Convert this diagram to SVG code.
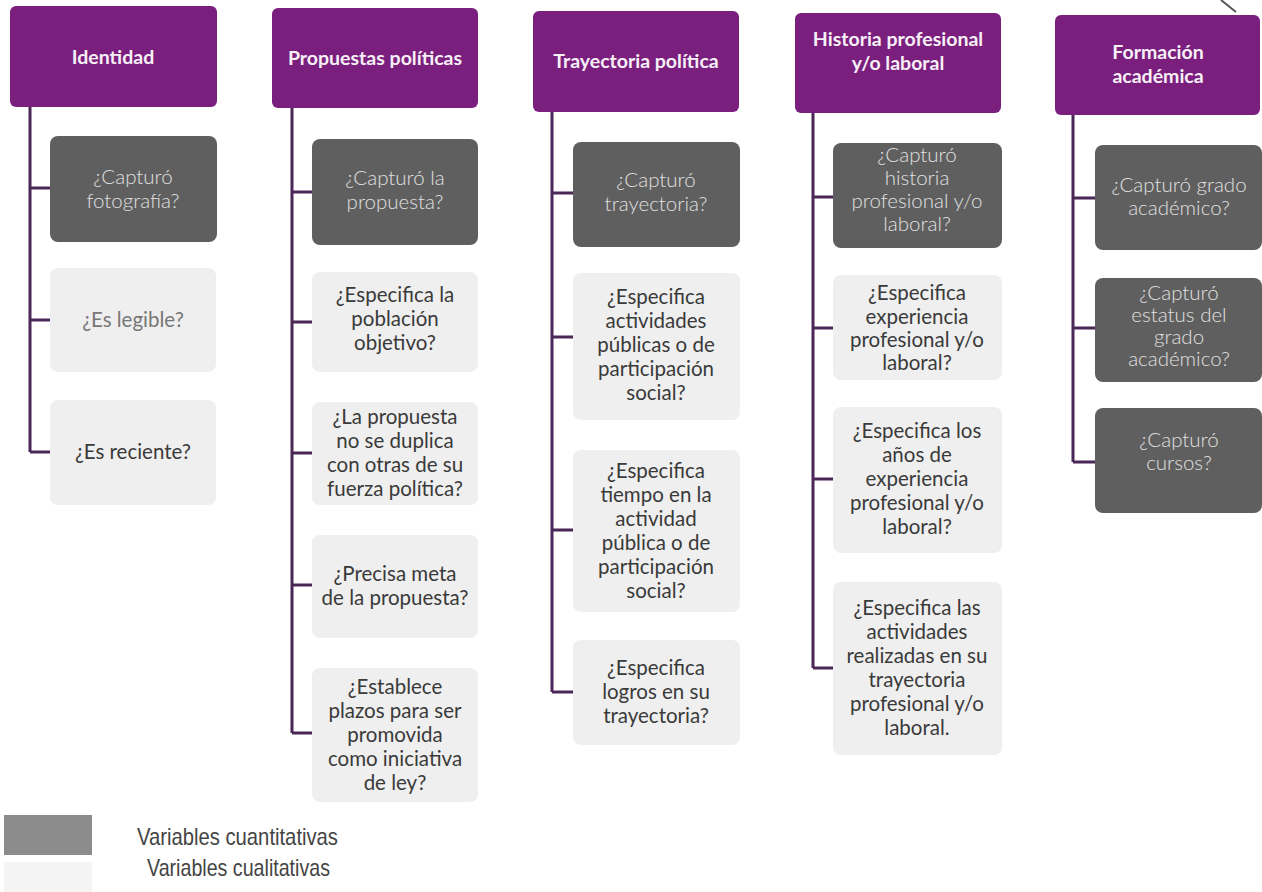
<svg xmlns="http://www.w3.org/2000/svg" width="1262" height="892" viewBox="0 0 1262 892">
<style>
.hdr{fill:#7b1f7e}
.ht{fill:#f6f0f6;font-family:Lato,"Open Sans",sans-serif;font-weight:bold;font-size:19.5px;text-anchor:middle}
.dk{fill:#5f5f5f}
.lt{fill:#efefef}
.dt{fill:#e0e0e0;font-family:Lato,"Open Sans",sans-serif;font-weight:300;font-size:20.5px;text-anchor:middle}
.tt{fill:#3a3a3a;font-family:Lato,"Open Sans",sans-serif;font-size:20.5px;text-anchor:middle}
.con{fill:none;stroke:#4b2757;stroke-width:3}
.lg{fill:#444;font-family:"Liberation Sans",Arial,sans-serif;font-size:24px}
</style>
<rect width="1262" height="892" fill="#ffffff"/>
<line x1="1221" y1="0" x2="1236" y2="12" stroke="#555" stroke-width="2"/>
<g id="connectors">
<path class="con" d="M30 107V452M30 188H50M30 320H50M30 452H50"/>
<path class="con" d="M292 108V733M292 192H312M292 322H312M292 453H312M292 585H312M292 733H312"/>
<path class="con" d="M552 112V692M552 193H573M552 337H573M552 530H573M552 692H573"/>
<path class="con" d="M813 113V668M813 197H833M813 328H833M813 479H833M813 668H833"/>
<path class="con" d="M1073 115V462M1073 198H1095M1073 328H1095M1073 462H1095"/>
</g>
<g id="h1"><rect class="hdr" x="10" y="6" width="207" height="101" rx="6"/><text class="ht" x="113" y="64">Identidad</text></g>
<g id="h2"><rect class="hdr" x="272" y="8" width="206" height="100" rx="6"/><text class="ht" x="375" y="65">Propuestas políticas</text></g>
<g id="h3"><rect class="hdr" x="533" y="11" width="206" height="101" rx="6"/><text class="ht" x="636" y="68">Trayectoria política</text></g>
<g id="h4"><rect class="hdr" x="795" y="13" width="206" height="100" rx="6"/><text class="ht" x="898" y="46">Historia profesional</text><text class="ht" x="898" y="70">y/o laboral</text></g>
<g id="h5"><rect class="hdr" x="1055" y="15" width="205" height="100" rx="6"/><text class="ht" x="1158" y="59">Formación</text><text class="ht" x="1158" y="83">académica</text></g>

<g id="c1b1"><rect class="dk" x="50" y="136" width="167" height="106" rx="8"/><text class="dt" x="133" y="184">¿Capturó</text><text class="dt" x="133" y="208">fotografía?</text></g>
<g id="c1b2"><rect class="lt" x="50" y="268" width="166" height="104" rx="8"/><text class="tt" x="133" y="327" style="fill:#777">¿Es legible?</text></g>
<g id="c1b3"><rect class="lt" x="50" y="400" width="166" height="105" rx="8"/><text class="tt" x="133" y="459">¿Es reciente?</text></g>

<g id="c2b1"><rect class="dk" x="312" y="139" width="166" height="106" rx="8"/><text class="dt" x="395" y="185">¿Capturó la</text><text class="dt" x="395" y="209">propuesta?</text></g>
<g id="c2b2"><rect class="lt" x="312" y="272" width="166" height="100" rx="8"/><text class="tt" x="395" y="302">¿Especifica la</text><text class="tt" x="395" y="326">población</text><text class="tt" x="395" y="350">objetivo?</text></g>
<g id="c2b3"><rect class="lt" x="312" y="402" width="166" height="103" rx="8"/><text class="tt" x="395" y="424">¿La propuesta</text><text class="tt" x="395" y="448">no se duplica</text><text class="tt" x="395" y="472">con otras de su</text><text class="tt" x="395" y="496">fuerza política?</text></g>
<g id="c2b4"><rect class="lt" x="312" y="535" width="166" height="103" rx="8"/><text class="tt" x="395" y="581">¿Precisa meta</text><text class="tt" x="395" y="605">de la propuesta?</text></g>
<g id="c2b5"><rect class="lt" x="312" y="668" width="166" height="134" rx="8"/><text class="tt" x="395" y="694">¿Establece</text><text class="tt" x="395" y="718">plazos para ser</text><text class="tt" x="395" y="742">promovida</text><text class="tt" x="395" y="766">como iniciativa</text><text class="tt" x="395" y="790">de ley?</text></g>

<g id="c3b1"><rect class="dk" x="573" y="142" width="167" height="105" rx="8"/><text class="dt" x="656" y="187">¿Capturó</text><text class="dt" x="656" y="211">trayectoria?</text></g>
<g id="c3b2"><rect class="lt" x="573" y="273" width="167" height="147" rx="8"/><text class="tt" x="656" y="304">¿Especifica</text><text class="tt" x="656" y="328">actividades</text><text class="tt" x="656" y="352">públicas o de</text><text class="tt" x="656" y="376">participación</text><text class="tt" x="656" y="400">social?</text></g>
<g id="c3b3"><rect class="lt" x="573" y="450" width="167" height="162" rx="8"/><text class="tt" x="656" y="478">¿Especifica</text><text class="tt" x="656" y="502">tiempo en la</text><text class="tt" x="656" y="526">actividad</text><text class="tt" x="656" y="550">pública o de</text><text class="tt" x="656" y="574">participación</text><text class="tt" x="656" y="598">social?</text></g>
<g id="c3b4"><rect class="lt" x="573" y="640" width="167" height="105" rx="8"/><text class="tt" x="656" y="675">¿Especifica</text><text class="tt" x="656" y="699">logros en su</text><text class="tt" x="656" y="723">trayectoria?</text></g>

<g id="c4b1"><rect class="dk" x="833" y="143" width="169" height="105" rx="8"/><text class="dt" x="917" y="162">¿Capturó</text><text class="dt" x="917" y="185">historia</text><text class="dt" x="917" y="208">profesional y/o</text><text class="dt" x="917" y="231">laboral?</text></g>
<g id="c4b2"><rect class="lt" x="833" y="275" width="169" height="105" rx="8"/><text class="tt" x="917" y="300">¿Especifica</text><text class="tt" x="917" y="324">experiencia</text><text class="tt" x="917" y="347">profesional y/o</text><text class="tt" x="917" y="370">laboral?</text></g>
<g id="c4b3"><rect class="lt" x="833" y="407" width="169" height="146" rx="8"/><text class="tt" x="917" y="438">¿Especifica los</text><text class="tt" x="917" y="462">años de</text><text class="tt" x="917" y="486">experiencia</text><text class="tt" x="917" y="510">profesional y/o</text><text class="tt" x="917" y="534">laboral?</text></g>
<g id="c4b4"><rect class="lt" x="833" y="582" width="169" height="173" rx="8"/><text class="tt" x="917" y="615">¿Especifica las</text><text class="tt" x="917" y="639">actividades</text><text class="tt" x="917" y="663">realizadas en su</text><text class="tt" x="917" y="687">trayectoria</text><text class="tt" x="917" y="711">profesional y/o</text><text class="tt" x="917" y="735">laboral.</text></g>

<g id="c5b1"><rect class="dk" x="1095" y="145" width="167" height="105" rx="8"/><text class="dt" x="1179" y="192">¿Capturó grado</text><text class="dt" x="1179" y="215">académico?</text></g>
<g id="c5b2"><rect class="dk" x="1095" y="278" width="167" height="104" rx="8"/><text class="dt" x="1179" y="300">¿Capturó</text><text class="dt" x="1179" y="322">estatus del</text><text class="dt" x="1179" y="344">grado</text><text class="dt" x="1179" y="366">académico?</text></g>
<g id="c5b3"><rect class="dk" x="1095" y="408" width="167" height="105" rx="8"/><text class="dt" x="1179" y="447">¿Capturó</text><text class="dt" x="1179" y="470">cursos?</text></g>

<g id="legend">
<rect x="4" y="815" width="88" height="40" fill="#8c8c8c"/>
<rect x="4" y="862" width="88" height="30" fill="#f4f4f4"/>
<text class="lg" x="137" y="845" textLength="201" lengthAdjust="spacingAndGlyphs">Variables cuantitativas</text>
<text class="lg" x="147" y="876" textLength="183" lengthAdjust="spacingAndGlyphs">Variables cualitativas</text>
</g>
</svg>
